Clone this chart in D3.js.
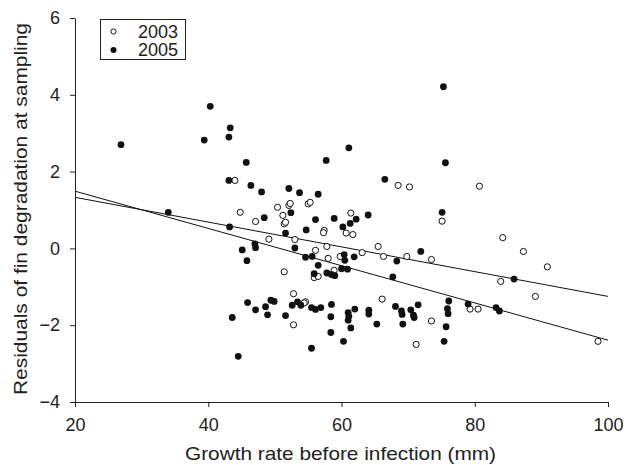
<!DOCTYPE html>
<html><head><meta charset="utf-8">
<script src="https://cdn.jsdelivr.net/npm/d3@7/dist/d3.min.js"></script>
<style>body{margin:0;background:#fff}svg{display:block}</style>
</head><body>
<svg id="c" width="626" height="465"></svg>
<script>
const series = ["2003", "2005"];
const xTicks = [20, 40, 60, 80, 100];
const yTicks = [-4, -2, 0, 2, 4, 6];
const data2003 = [[44.0,1.77],[44.8,0.94],[47.1,0.70],[50.4,1.07],[51.2,0.86],[51.4,0.64],[51.6,0.68],[52.1,1.12],[52.3,1.17],[55.0,1.16],[55.3,1.20],[49.1,0.24],[53.0,0.23],[57.4,0.47],[57.3,0.41],[60.7,0.40],[61.7,0.36],[61.4,0.92],[68.5,1.64],[70.2,1.60],[80.7,1.62],[75.1,0.71],[84.2,0.28],[56.1,-0.05],[57.8,0.05],[51.4,-0.61],[55.9,-0.76],[56.5,-0.73],[58.9,-0.57],[58.0,-0.26],[59.8,-0.21],[63.1,-0.11],[65.5,0.05],[66.3,-0.21],[69.8,-0.21],[73.5,-0.29],[87.3,-0.08],[90.9,-0.48],[83.9,-0.86],[89.1,-1.25],[98.5,-2.42],[52.8,-1.18],[52.8,-1.99],[54.6,-1.39],[54.4,-1.42],[66.1,-1.32],[73.5,-1.89],[71.2,-2.50],[79.3,-1.58],[80.5,-1.58]];
const data2005 = [[26.9,2.70],[40.3,3.70],[39.4,2.82],[43.1,2.90],[43.3,3.14],[45.7,2.24],[43.1,1.77],[46.4,1.64],[48.0,1.47],[34.0,0.94],[48.4,0.80],[43.2,0.56],[52.1,1.56],[53.7,1.45],[56.5,1.41],[52.4,0.93],[56.1,0.75],[51.6,0.40],[54.7,0.48],[75.3,4.21],[61.1,2.62],[57.7,2.29],[75.6,2.23],[66.5,1.80],[75.1,0.94],[58.9,0.78],[62.2,0.76],[64.0,0.87],[60.2,0.56],[61.3,0.65],[47.0,0.12],[47.1,0.02],[45.1,-0.04],[45.8,-0.32],[53.0,0.01],[54.6,-0.23],[55.6,-0.21],[56.5,-0.44],[55.9,-0.66],[45.9,-1.41],[49.4,-1.35],[49.9,-1.38],[47.1,-1.60],[48.6,-1.52],[48.9,-1.73],[51.6,-1.75],[52.6,-1.48],[53.4,-1.39],[53.9,-1.48],[55.5,-1.54],[56.1,-1.59],[43.6,-1.80],[44.5,-2.81],[55.5,-2.60],[60.4,-0.16],[60.5,-0.31],[61.9,-0.22],[57.8,-0.64],[58.5,-0.68],[59.0,-0.71],[60.0,-0.53],[60.9,-0.54],[56.9,-1.54],[58.5,-1.46],[58.4,-1.78],[58.4,-2.19],[61.0,-1.67],[61.1,-1.77],[61.0,-1.87],[61.4,-2.07],[62.0,-1.58],[64.1,-1.61],[64.1,-1.71],[65.3,-1.97],[60.3,-2.42],[71.9,-0.08],[68.3,-0.33],[67.7,-0.74],[68.1,-1.51],[69.0,-1.63],[69.1,-1.72],[70.4,-1.60],[70.8,-1.74],[70.9,-1.80],[71.5,-1.47],[69.2,-1.97],[76.1,-1.37],[75.9,-1.57],[76.0,-1.70],[75.7,-2.04],[75.4,-2.42],[79.0,-1.45],[83.2,-1.54],[83.7,-1.63],[85.9,-0.80]];
const fitLines = [[[20,1.49],[100,-2.39]],[[20,1.33],[100,-1.25]]];

const svg = d3.select("#c");
const font = "'Liberation Sans', Arial, sans-serif";
const x = d3.scaleLinear().domain([20,100]).range([75,608]);
const y = d3.scaleLinear().domain([-4,6]).range([402,18]);

const gx = svg.append("g").attr("transform","translate(0,402)")
  .call(d3.axisBottom(x).tickValues(xTicks).tickSize(5).tickPadding(11).tickSizeOuter(0));
const gy = svg.append("g").attr("transform","translate(75,0)")
  .call(d3.axisLeft(y).tickValues(yTicks).tickSize(5).tickPadding(10).tickSizeOuter(0));
[gx,gy].forEach(g=>{
  g.selectAll("path,line").attr("stroke","#222").attr("stroke-width",1);
  g.selectAll("text").attr("font-family",font).attr("font-size",18).attr("fill","#222");
});

const line = d3.line().x(d=>x(d[0])).y(d=>y(d[1]));
svg.selectAll("path.fit").data(fitLines).join("path").attr("class","fit")
  .attr("d",line).attr("fill","none").attr("stroke","#111").attr("stroke-width",1);

svg.append("g").selectAll("circle").data(data2003).join("circle")
  .attr("cx",d=>x(d[0])).attr("cy",d=>y(d[1])).attr("r",3.1)
  .attr("fill","#fff").attr("stroke","#111").attr("stroke-width",1);
svg.append("g").selectAll("circle").data(data2005).join("circle")
  .attr("cx",d=>x(d[0])).attr("cy",d=>y(d[1])).attr("r",3.4)
  .attr("fill","#111");

// legend
const lg = svg.append("g");
lg.append("rect").attr("x",100.5).attr("y",19.5).attr("width",85).attr("height",40)
  .attr("fill","#fff").attr("stroke","#222").attr("stroke-width",1);
series.forEach((s,i)=>{
  const cy = 31.5 + i*18.5;
  if(i===0) lg.append("circle").attr("cx",113.5).attr("cy",cy).attr("r",2.6).attr("fill","#fff").attr("stroke","#111");
  else lg.append("circle").attr("cx",113.5).attr("cy",cy).attr("r",3).attr("fill","#111");
  lg.append("text").attr("x",138).attr("y",cy+6.3).text(s)
    .attr("font-family",font).attr("font-size",18).attr("fill","#222");
});

svg.append("text").attr("x",340.5).attr("y",460).attr("text-anchor","middle")
  .attr("font-family",font).attr("font-size",19).attr("fill","#222")
  .attr("textLength",311).attr("lengthAdjust","spacingAndGlyphs")
  .text("Growth rate before infection (mm)");
svg.append("text").attr("transform","translate(27,209) rotate(-90)").attr("text-anchor","middle")
  .attr("font-family",font).attr("font-size",19).attr("fill","#222")
  .attr("textLength",372).attr("lengthAdjust","spacingAndGlyphs")
  .text("Residuals of fin degradation at sampling");
</script>
</body></html>
